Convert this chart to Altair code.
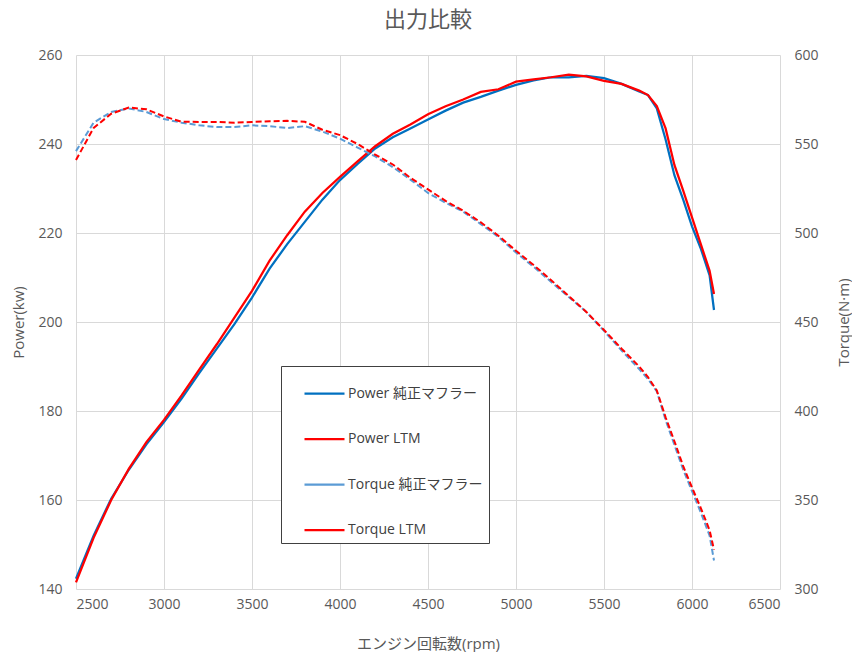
import altair as alt
import pandas as pd

rpm = [2500, 2600, 2700, 2800, 2900, 3000, 3100, 3200, 3300, 3400, 3500,
       3600, 3700, 3800, 3900, 4000, 4100, 4200, 4300, 4400, 4500, 4600,
       4700, 4800, 4900, 5000, 5100, 5200, 5300, 5400, 5500, 5600, 5700,
       5750, 5800, 5850, 5900, 5950, 6000, 6050, 6100, 6125]

power_stock = [142.3, 152.0, 160.3, 166.8, 172.5, 177.5, 182.8, 188.5, 194.0, 199.5, 205.5,
               212.0, 217.5, 222.5, 227.5, 231.9, 235.5, 239.0, 241.5, 243.5, 245.5, 247.5,
               249.3, 250.6, 252.0, 253.3, 254.3, 255.0, 255.0, 255.3, 254.8, 253.5, 251.8,
               251.0, 248.0, 241.0, 233.0, 227.5, 221.5, 216.5, 210.5, 202.7]

power_ltm = [141.5, 151.5, 160.0, 167.0, 173.0, 178.0, 183.5, 189.3, 195.0, 201.0, 207.0,
             213.8, 219.5, 224.8, 229.0, 232.6, 236.1, 239.5, 242.3, 244.4, 246.7, 248.5,
             250.0, 251.7, 252.3, 254.0, 254.5, 255.0, 255.6, 255.2, 254.2, 253.5, 252.0,
             251.0, 248.5, 243.5, 235.3, 229.5, 223.5, 217.5, 211.5, 206.3]

torque_stock = [546.0, 562.0, 568.0, 570.0, 568.0, 564.0, 562.0, 560.5, 559.5, 559.5, 560.5,
                560.0, 559.0, 560.0, 557.0, 553.0, 548.0, 543.0, 537.0, 530.0, 522.5, 517.0,
                512.0, 505.0, 497.8, 489.0, 481.0, 472.5, 464.0, 455.6, 445.0, 434.0, 423.5,
                418.0, 411.0, 395.0, 381.0, 367.0, 355.0, 343.0, 330.0, 316.0]

torque_ltm = [541.0, 559.0, 567.0, 570.5, 569.5, 565.5, 562.5, 562.4, 562.4, 562.0, 562.4,
              562.8, 563.0, 562.5, 558.0, 555.0, 550.0, 544.0, 538.5, 531.0, 524.5, 518.0,
              512.5, 506.0, 498.5, 490.0, 482.0, 473.5, 464.6, 455.6, 445.5, 435.0, 425.0,
              419.0, 411.5, 396.5, 383.0, 369.0, 357.0, 345.5, 333.0, 322.0]

series_names = ["Power 純正マフラー", "Power LTM", "Torque 純正マフラー", "Torque LTM"]
series_colors = ["#0070C0", "#FF0000", "#5B9BD5", "#FF0000"]

rows = []
for name, vals, kind in [(series_names[0], power_stock, "power"),
                         (series_names[1], power_ltm, "power"),
                         (series_names[2], torque_stock, "torque"),
                         (series_names[3], torque_ltm, "torque")]:
    for r, v in zip(rpm, vals):
        rows.append({"rpm": r, "value": v, "series": name, "kind": kind})
df = pd.DataFrame(rows)

FONT = "Open Sans, Noto Sans CJK JP"
CJK = "Noto Sans CJK JP"
LABEL_C = "#595959"
GRID_C = "#d9d9d9"

color = alt.Color(
    "series:N",
    scale=alt.Scale(domain=series_names, range=series_colors),
    sort=series_names,
    legend=alt.Legend(
        title=None, orient="none", legendX=205, legendY=311,
        symbolType="stroke", symbolSize=1600, symbolStrokeWidth=2.25,
        symbolOffset=16, labelOffset=2,
        padding=6, rowPadding=16.5,
        labelFontSize=14, labelFont=FONT, labelColor="#404040",
        strokeColor="#404040", fillColor="white", labelLimit=300,
    ),
)

x = alt.X(
    "rpm:Q",
    scale=alt.Scale(domain=[2500, 6500], nice=False),
    axis=alt.Axis(
        values=[2500, 3000, 3500, 4000, 4500, 5000, 5500, 6000, 6500], format="d",
        title="エンジン回転数(rpm)", titleX=352, titleY=54, titleBaseline="middle",
        titleFontSize=15, titleFont=FONT, titleColor=LABEL_C, titleFontWeight="normal",
        labelFontSize=14, labelFont=FONT, labelColor=LABEL_C, labelPadding=8,
        ticks=False, domain=False, grid=True, gridColor=GRID_C, gridWidth=1,
    ),
)

power = alt.Chart(df).transform_filter(alt.datum.kind == "power").mark_line(
    strokeWidth=2.25
).encode(
    x=x,
    y=alt.Y(
        "value:Q",
        scale=alt.Scale(domain=[140, 260], nice=False, zero=False),
        axis=alt.Axis(
            values=[140, 160, 180, 200, 220, 240, 260],
            title="Power(kw)", titleX=-58, titleY=267, titleAngle=270,
            titleBaseline="middle", titleFontSize=15, titleFont=FONT,
            titleColor=LABEL_C, titleFontWeight="normal",
            labelFontSize=14, labelFont=FONT, labelColor=LABEL_C, labelPadding=14,
            ticks=False, domain=False, grid=True, gridColor=GRID_C, gridWidth=1,
        ),
    ),
    color=color,
    detail="series:N",
)

torque = alt.Chart(df).transform_filter(alt.datum.kind == "torque").mark_line(
    strokeWidth=2.0, strokeDash=[6, 3]
).encode(
    x=x,
    y=alt.Y(
        "value:Q",
        scale=alt.Scale(domain=[300, 600], nice=False, zero=False),
        axis=alt.Axis(
            orient="right",
            values=[300, 350, 400, 450, 500, 550, 600],
            title="Torque(N·m)", titleX=63, titleY=267, titleAngle=270,
            titleBaseline="middle", titleFontSize=15, titleFont=FONT,
            titleColor=LABEL_C, titleFontWeight="normal",
            labelFontSize=14, labelFont=FONT, labelColor=LABEL_C, labelPadding=14,
            ticks=False, domain=False, grid=False,
        ),
    ),
    color=color,
    detail="series:N",
)

chart = alt.layer(power, torque).resolve_scale(y="independent").properties(
    width=704,
    height=534,
    title=alt.TitleParams(
        "出力比較", fontSize=22, font=CJK, color=LABEL_C, fontWeight="normal",
        anchor="middle", frame="group", offset=16,
    ),
    autosize=alt.AutoSizeParams(type="none"),
    padding={"left": 68, "top": 47, "right": 72, "bottom": 63},
).configure_view(stroke=None)

chart.save("out.html", embed_options={"renderer": "svg", "actions": False})
